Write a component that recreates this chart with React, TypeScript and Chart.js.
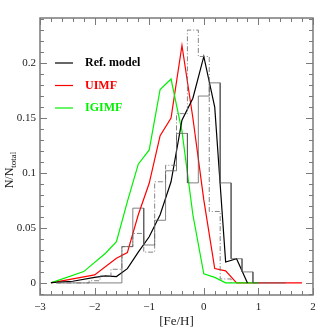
import React, { useEffect, useRef } from "react";
import { Chart, registerables } from "chart.js";

Chart.register(...registerables);

// ---- Data ----
// Model curves: [Fe/H] positions and N/N_total values
const refFeH = [-2.8, -2.4, -2.0, -1.8, -1.6, -1.4, -1.2, -1.0, -0.8, -0.6, -0.4, -0.2, 0.0, 0.2, 0.4, 0.6, 0.8];
const refFrac = [0.0003, 0.0015, 0.005, 0.0064, 0.0058, 0.013, 0.028, 0.042, 0.062, 0.092, 0.148, 0.168, 0.206, 0.16, 0.019, 0.022, 0.0];

const uimfFeH = [-2.8, -2.0, -1.6, -1.4, -1.2, -1.0, -0.8, -0.6, -0.4, -0.2, 0.0, 0.2, 0.4, 0.6, 1.8];
const uimfFrac = [0.0, 0.0073, 0.0224, 0.0276, 0.062, 0.0906, 0.134, 0.15, 0.216, 0.15, 0.0755, 0.013, 0.011, 0.0, 0.0];

const igimfFeH = [-2.8, -2.2, -1.8, -1.6, -1.4, -1.2, -1.0, -0.8, -0.6, -0.4, -0.2, 0.0, 0.2, 0.4, 1.0];
const igimfFrac = [0.0, 0.0103, 0.027, 0.0376, 0.074, 0.108, 0.121, 0.176, 0.1855, 0.138, 0.062, 0.0082, 0.005, 0.0, 0.0];

// Observed histograms (bin centres, width 0.2 dex)
const binCenters = [-2.6, -2.4, -2.2, -2.0, -1.8, -1.6, -1.4, -1.2, -1.0, -0.8, -0.6, -0.4, -0.2, 0.0, 0.2, 0.4, 0.6, 0.8, 1.0, 1.2, 1.4];
const binWidth = 0.2;
const obsSolid = [0, 0, 0, 0, 0, 0, 0.033, 0.068, 0.0345, 0.057, 0.102, 0.136, 0.091, 0.17, 0.182, 0.091, 0.022, 0.01, 0, 0, 0];
const obsDashed = [0, 0, 0, 0.002, 0.0064, 0.0124, 0.033, 0.045, 0.028, 0.092, 0.107, 0.154, 0.23, 0.206, 0.065, 0.0036];

const xTickValues = [-3, -2, -1, 0, 1, 2];
const yTickValues = [0, 0.05, 0.1, 0.15, 0.2];
const legendLabels = ["Ref. model", "UIMF", "IGIMF"];
const seriesColors = ["#000000", "#ff0000", "#00f000"];

const X_MIN = -3, X_MAX = 2, Y_MIN = -0.011, Y_MAX = 0.241;
const SERIF = "'Liberation Serif', 'Times New Roman', serif";

function pairs(xs: number[], ys: number[]) {
  return xs.map((x, i) => ({ x, y: ys[i] }));
}

function steps(centers: number[], vals: number[]) {
  const pts: { x: number; y: number }[] = [];
  const h = binWidth / 2;
  pts.push({ x: centers[0] - h, y: 0 });
  vals.forEach((v, i) => {
    pts.push({ x: centers[i] - h, y: v });
    pts.push({ x: centers[i] + h, y: v });
  });
  pts.push({ x: centers[vals.length - 1] + h, y: 0 });
  return pts;
}

const framePlugin = {
  id: "frame",
  afterDatasetsDraw(chart: any) {
    const { ctx, chartArea: a, scales } = chart;
    const xs = scales.x, ys = scales.y;
    ctx.save();
    ctx.strokeStyle = "#7a7a7a";
    ctx.lineWidth = 1.5;
    ctx.strokeRect(a.left, a.top, a.right - a.left, a.bottom - a.top);
    ctx.lineWidth = 1;
    ctx.beginPath();
    for (let k = 0; k <= 25; k++) {
      const v = X_MIN + k * 0.2;
      const px = Math.round(xs.getPixelForValue(v)) + 0.5;
      const len = k % 5 === 0 ? 7 : 4;
      ctx.moveTo(px, a.bottom);
      ctx.lineTo(px, a.bottom - len);
      ctx.moveTo(px, a.top);
      ctx.lineTo(px, a.top + len);
    }
    for (let k = -1; k <= 24; k++) {
      const v = k * 0.01;
      const py = Math.round(ys.getPixelForValue(v)) + 0.5;
      const len = k % 5 === 0 ? 7 : 4;
      ctx.moveTo(a.left, py);
      ctx.lineTo(a.left + len, py);
      ctx.moveTo(a.right, py);
      ctx.lineTo(a.right - len, py);
    }
    ctx.stroke();
    ctx.restore();
  },
  afterDraw(chart: any) {
    const { ctx, chartArea: a } = chart;
    ctx.save();
    ctx.textBaseline = "middle";
    ctx.textAlign = "left";
    ctx.font = `bold 12px ${SERIF}`;
    legendLabels.forEach((lab, i) => {
      const y = a.top + 45 + i * 22.5;
      ctx.strokeStyle = seriesColors[i];
      ctx.lineWidth = 1.2;
      ctx.beginPath();
      ctx.moveTo(a.left + 15, y);
      ctx.lineTo(a.left + 33, y);
      ctx.stroke();
      ctx.fillStyle = seriesColors[i];
      ctx.fillText(lab, a.left + 45, y);
    });
    ctx.fillStyle = "#222";
    ctx.translate(13, 170);
    ctx.rotate(-Math.PI / 2);
    ctx.textBaseline = "alphabetic";
    const main = "N/N";
    ctx.font = `12px ${SERIF}`;
    const w1 = ctx.measureText(main).width;
    ctx.font = `9px ${SERIF}`;
    const w2 = ctx.measureText("total").width;
    const start = -(w1 + w2) / 2;
    ctx.font = `12px ${SERIF}`;
    ctx.fillText(main, start, 0);
    ctx.font = `9px ${SERIF}`;
    ctx.fillText("total", start + w1, 3);
    ctx.restore();
  },
};

export default function App() {
  const ref = useRef<HTMLCanvasElement | null>(null);
  useEffect(() => {
    if (!ref.current) return;
    const line = { pointRadius: 0, borderWidth: 1.2, tension: 0, fill: false };
    const chart = new Chart(ref.current, {
      type: "line",
      data: {
        datasets: [
          { ...line, label: "obs solid", data: steps(binCenters, obsSolid), borderColor: "rgba(85,85,85,0.75)", borderWidth: 1, order: 1 },
          { ...line, label: "obs dashed", data: steps(binCenters.slice(0, obsDashed.length), obsDashed), borderColor: "rgba(110,110,110,0.85)", borderWidth: 1, borderDash: [5, 2, 1, 2], order: 2 },
          { ...line, label: legendLabels[0], data: pairs(refFeH, refFrac), borderColor: seriesColors[0], order: 3 },
          { ...line, label: legendLabels[2], data: pairs(igimfFeH, igimfFrac), borderColor: seriesColors[2], order: 4 },
          { ...line, label: legendLabels[1], data: pairs(uimfFeH, uimfFrac), borderColor: seriesColors[1], order: 5 },
        ],
      },
      options: {
        responsive: false,
        animation: false,
        layout: { padding: { top: 18, right: 19, left: 0, bottom: 0 } },
        plugins: { legend: { display: false }, tooltip: { enabled: false } },
        scales: {
          x: {
            type: "linear",
            min: X_MIN,
            max: X_MAX,
            grid: { display: false, drawTicks: false },
            border: { display: false },
            afterBuildTicks: (s: any) => { s.ticks = xTickValues.map((v) => ({ value: v })); },
            afterFit: (s: any) => { s.height = 37; },
            ticks: {
              padding: 6,
              color: "#222",
              maxRotation: 0,
              font: { family: SERIF, size: 11 },
              callback: (v: any) => (Number(v) < 0 ? "\u2212" + Math.abs(Number(v)) : String(v)),
            },
            title: { display: true, text: "[Fe/H]", color: "#222", font: { family: SERIF, size: 13 }, padding: { top: 0, bottom: 3 } },
          },
          y: {
            type: "linear",
            min: Y_MIN,
            max: Y_MAX,
            grid: { display: false, drawTicks: false },
            border: { display: false },
            afterBuildTicks: (s: any) => { s.ticks = yTickValues.map((v) => ({ value: v })); },
            afterFit: (s: any) => { s.width = 40; },
            ticks: {
              padding: 4,
              color: "#222",
              font: { family: SERIF, size: 11 },
              callback: (v: any) => String(Number(v)),
            },
          },
        },
      },
      plugins: [framePlugin],
    } as any);
    return () => chart.destroy();
  }, []);
  return (
    <div style={{ position: "absolute", left: 0, top: 0, width: 332, height: 332, background: "#fff" }}>
      <canvas ref={ref} width={332} height={332} />
    </div>
  );
}
